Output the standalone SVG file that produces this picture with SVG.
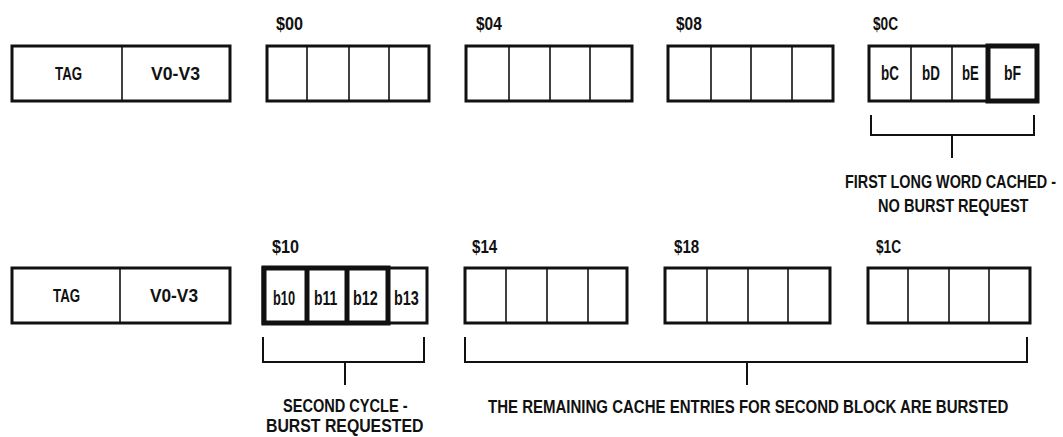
<svg xmlns="http://www.w3.org/2000/svg" width="1063" height="437" viewBox="0 0 1063 437">
<style>
.bg{fill:#fff}
.box{fill:#fff;stroke:#111;stroke-width:3}
.div{stroke:#111;stroke-width:1.6}
.thick{fill:none;stroke:#111;stroke-width:5}
.br{fill:none;stroke:#111;stroke-width:2}
text{font-family:"Liberation Sans",Arial,sans-serif;font-size:18px;font-weight:bold;fill:#111}
.s{font-size:20px}
</style>
<rect class="bg" x="0" y="0" width="1063" height="437"/>
<g id="row1">
<g id="tag1">
<rect class="box" x="12" y="46" width="218" height="55"/>
<line class="div" x1="122" y1="46" x2="122" y2="101"/>
<text transform="translate(55,80) scale(0.74,1)">TAG</text>
<text transform="translate(151,80) scale(0.98,1)">V0-V3</text>
</g>
<g id="b00">
<text transform="translate(276,30) scale(0.9,1)">$00</text>
<rect class="box" x="267" y="46" width="162" height="55"/>
<line class="div" x1="307" y1="46" x2="307" y2="101"/>
<line class="div" x1="349" y1="46" x2="349" y2="101"/>
<line class="div" x1="389" y1="46" x2="389" y2="101"/>
</g>
<g id="b04">
<text transform="translate(476,30) scale(0.86,1)">$04</text>
<rect class="box" x="466" y="46" width="166" height="55"/>
<line class="div" x1="509" y1="46" x2="509" y2="101"/>
<line class="div" x1="550" y1="46" x2="550" y2="101"/>
<line class="div" x1="590" y1="46" x2="590" y2="101"/>
</g>
<g id="b08">
<text transform="translate(676,30) scale(0.86,1)">$08</text>
<rect class="box" x="668" y="46" width="165" height="55"/>
<line class="div" x1="711" y1="46" x2="711" y2="101"/>
<line class="div" x1="751" y1="46" x2="751" y2="101"/>
<line class="div" x1="792" y1="46" x2="792" y2="101"/>
</g>
<g id="b0C">
<text transform="translate(873,30) scale(0.76,1)">$0C</text>
<rect class="box" x="869" y="46" width="168" height="55"/>
<line class="div" x1="911" y1="46" x2="911" y2="101"/>
<line class="div" x1="952" y1="46" x2="952" y2="101"/>
<rect class="thick" x="988" y="46" width="49" height="55"/>
<text class="s" transform="translate(881,80) scale(0.67,1)">bC</text>
<text class="s" transform="translate(922,80) scale(0.67,1)">bD</text>
<text class="s" transform="translate(962,80) scale(0.66,1)">bE</text>
<text class="s" transform="translate(1004,80) scale(0.7,1)">bF</text>
</g>
</g>
<g id="row2">
<g id="tag2">
<rect class="box" x="12" y="268" width="218" height="55"/>
<line class="div" x1="120" y1="268" x2="120" y2="323"/>
<text transform="translate(53,302) scale(0.74,1)">TAG</text>
<text transform="translate(150,302) scale(0.96,1)">V0-V3</text>
</g>
<g id="b10">
<text transform="translate(272,253) scale(0.9,1)">$10</text>
<rect class="box" x="263" y="268" width="164" height="55"/>
<rect class="thick" x="264" y="268" width="124" height="55"/>
<line class="thick" x1="307" y1="268" x2="307" y2="323"/>
<line class="thick" x1="347" y1="268" x2="347" y2="323"/>
<text class="s" transform="translate(273,305) scale(0.64,1)">b10</text>
<text class="s" transform="translate(314,305) scale(0.7,1)">b11</text>
<text class="s" transform="translate(353,305) scale(0.72,1)">b12</text>
<text class="s" transform="translate(394,305) scale(0.72,1)">b13</text>
</g>
<g id="b14">
<text transform="translate(472,253) scale(0.84,1)">$14</text>
<rect class="box" x="465" y="268" width="162" height="55"/>
<line class="div" x1="506" y1="268" x2="506" y2="323"/>
<line class="div" x1="547" y1="268" x2="547" y2="323"/>
<line class="div" x1="588" y1="268" x2="588" y2="323"/>
</g>
<g id="b18">
<text transform="translate(674,253) scale(0.84,1)">$18</text>
<rect class="box" x="665" y="268" width="165" height="55"/>
<line class="div" x1="707" y1="268" x2="707" y2="323"/>
<line class="div" x1="748" y1="268" x2="748" y2="323"/>
<line class="div" x1="788" y1="268" x2="788" y2="323"/>
</g>
<g id="b1C">
<text transform="translate(876,253) scale(0.76,1)">$1C</text>
<rect class="box" x="868" y="268" width="162" height="55"/>
<line class="div" x1="908" y1="268" x2="908" y2="323"/>
<line class="div" x1="949" y1="268" x2="949" y2="323"/>
<line class="div" x1="989" y1="268" x2="989" y2="323"/>
</g>
</g>
<g id="connectors">
<path class="br" d="M871 115 V135 H1034 V115 M952 135 V158"/>
<path class="br" d="M263 337 V362 H424 V337 M345 362 V385"/>
<path class="br" d="M465 337 V362 H1027 V337 M747 362 V385"/>
</g>
<g id="labels">
<text transform="translate(845,188) scale(0.8,1)">FIRST LONG WORD CACHED -</text>
<text transform="translate(878,212) scale(0.81,1)">NO BURST REQUEST</text>
<text transform="translate(283,412) scale(0.81,1)">SECOND CYCLE -</text>
<text transform="translate(266,432) scale(0.88,1)">BURST REQUESTED</text>
<text transform="translate(488,413) scale(0.834,1)">THE REMAINING CACHE ENTRIES FOR SECOND BLOCK ARE BURSTED</text>
</g>
</svg>
